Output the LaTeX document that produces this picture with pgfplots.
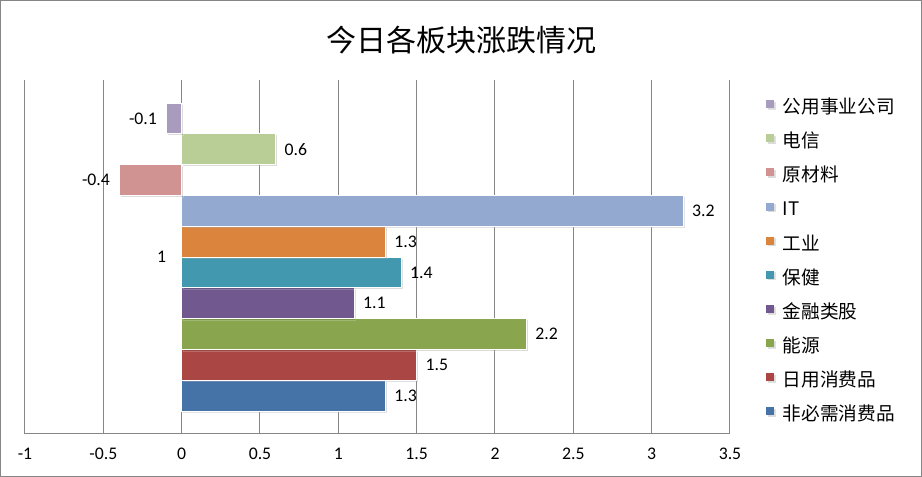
\documentclass[border=0pt]{standalone}
\usepackage{pgfplots}
\pgfplotsset{compat=1.18}
\usepackage{fontspec}
\setmainfont{Carlito}
\newfontfamily\cjk{Noto Sans CJK SC}
\usetikzlibrary{shadows}
\definecolor{c1}{HTML}{4572A7}
\definecolor{c2}{HTML}{AA4643}
\definecolor{c3}{HTML}{89A54E}
\definecolor{c4}{HTML}{71588F}
\definecolor{c5}{HTML}{4198AF}
\definecolor{c6}{HTML}{DB843D}
\definecolor{c7}{HTML}{93A9CF}
\definecolor{c8}{HTML}{D19392}
\definecolor{c9}{HTML}{B9CD96}
\definecolor{c10}{HTML}{A99BBD}
\definecolor{gridc}{HTML}{868686}
\begin{document}
\begin{tikzpicture}
\useasboundingbox (0,0) rectangle (691.5pt,357.75pt);
\draw[draw=gridc, line width=0.75pt] (0.375pt,0.375pt) rectangle (691.125pt,357.375pt);
\node[font=\cjk\fontsize{22.5}{27}\selectfont] at (345.75pt,327.75pt) {今日各板块涨跌情况};
\begin{axis}[
  scale only axis, width=528.75pt, height=265.5pt,
  at={(18.75pt,32.25pt)}, anchor=south west,
  /pgf/number format/assume math mode=true,
  xbar=0pt, bar width=0.174,
  xmin=-1, xmax=3.5, ymin=-1, ymax=1,
  xtick={-1,-0.5,0,0.5,1,1.5,2,2.5,3,3.5},
  ytick=\empty,
  major tick length=0pt,
  xmajorgrids,
  grid style={draw=gridc, line width=0.75pt},
  axis x line*=bottom, axis y line*=left,
  axis line style={draw=gridc, line width=0.75pt, -},
  xticklabel style={font=\fontsize{13.3}{16}\selectfont, yshift=-7pt},
  point meta=x,
  nodes near coords,
  nodes near coords align=horizontal,
  every node near coord/.append style={font=\fontsize{13.3}{16}\selectfont, inner sep=6.5pt, text=black},
  every axis plot/.append style={draw=white, line width=0.6pt,
     drop shadow={shadow xshift=1.2pt, shadow yshift=-1.2pt, opacity=0.2, fill=black!70}},
  legend style={at={(1.051,0.943)}, anchor=north west, draw=none, fill=none,
     inner sep=0pt, outer sep=0pt,
     font=\cjk\fontsize{14}{17}\selectfont,
     nodes={inner sep=0pt, text height=10pt, text depth=3pt},
     row sep=12.6pt, column sep=6.75pt},
  legend cell align=left,
  reverse legend,
  legend image code/.code={\fill[#1, draw=none] (0pt,0.5pt) rectangle (6pt,6.5pt);},
]
\addplot[fill=c1] coordinates {(1.3,0)};
\addplot[fill=c2] coordinates {(1.5,0)};
\addplot[fill=c3] coordinates {(2.2,0)};
\addplot[fill=c4] coordinates {(1.1,0)};
\addplot[fill=c5] coordinates {(1.4,0)};
\addplot[fill=c6] coordinates {(1.3,0)};
\addplot[fill=c7] coordinates {(3.2,0)};
\addplot[fill=c8] coordinates {(-0.4,0)};
\addplot[fill=c9] coordinates {(0.6,0)};
\addplot[fill=c10] coordinates {(-0.1,0)};
\legend{非必需消费品,日用消费品,能源,金融类股,保健,工业,IT,原材料,电信,公用事业公司}
\node[anchor=east, font=\fontsize{13.3}{16}\selectfont, inner sep=0pt] at (axis cs:-0.098,0) {1};
\end{axis}
\end{tikzpicture}
\end{document}
